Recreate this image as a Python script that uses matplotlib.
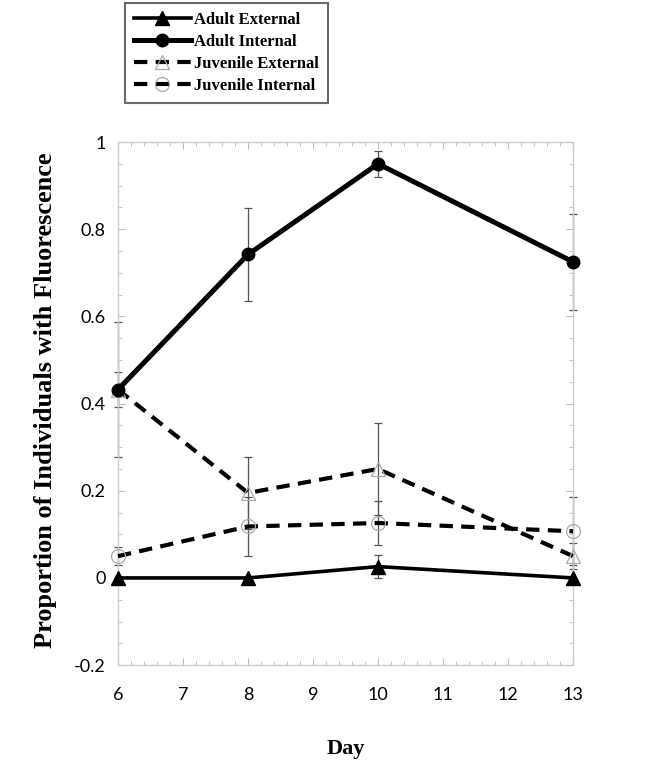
import matplotlib
matplotlib.use("Agg")
import matplotlib.pyplot as plt
from matplotlib.ticker import MultipleLocator

days = [6, 8, 10, 13]
adult_external = [0.0, 0.0, 0.026, 0.0]
adult_external_err = [0.0, 0.0, 0.026, 0.0]
adult_internal = [0.432, 0.742, 0.95, 0.725]
adult_internal_err = [0.155, 0.107, 0.03, 0.11]
juvenile_external = [0.432, 0.195, 0.25, 0.05]
juvenile_external_err = [0.04, 0.083, 0.105, 0.03]
juvenile_internal = [0.05, 0.118, 0.126, 0.107]
juvenile_internal_err = [0.02, 0.068, 0.05, 0.078]

xticks = [6, 7, 8, 9, 10, 11, 12, 13]
yticks = [-0.2, 0, 0.2, 0.4, 0.6, 0.8, 1]
ytick_labels = ["-0.2", "0", "0.2", "0.4", "0.6", "0.8", "1"]

fig = plt.figure(figsize=(6.64, 7.61), dpi=100)
ax = fig.add_axes([0.1777, 0.126, 0.6853, 0.6874])

err_kw = dict(ecolor="#555555", elinewidth=0.9, capsize=3, capthick=0.9)
dash = (3.2, 2.0)

for vals, errs in [(juvenile_internal, juvenile_internal_err),
                   (juvenile_external, juvenile_external_err),
                   (adult_internal, adult_internal_err),
                   (adult_external, adult_external_err)]:
    _, caps, bars = ax.errorbar(days, vals, yerr=errs, fmt="none", zorder=1, **err_kw)
    for c in caps:
        c.set_clip_on(False)
    for b in bars:
        b.set_clip_on(False)

l1, = ax.plot(days, adult_external, color="black", lw=2.6, marker="^", ms=10,
              mfc="black", mec="black", zorder=4, clip_on=False, label="Adult External")
l2, = ax.plot(days, adult_internal, color="black", lw=3.6, marker="o", ms=9,
              mfc="black", mec="black", zorder=4, clip_on=False, label="Adult Internal")
l3, = ax.plot(days, juvenile_external, color="black", lw=3.0, dashes=dash, marker="^", ms=10,
              mfc="none", mec="#aaaaaa", mew=0.9, zorder=3, clip_on=False,
              label="Juvenile External")
l4, = ax.plot(days, juvenile_internal, color="black", lw=3.0, dashes=dash, marker="o", ms=10,
              mfc="none", mec="#aaaaaa", mew=0.9, zorder=3, clip_on=False,
              label="Juvenile Internal")

ax.set_xlim(6, 13)
ax.set_ylim(-0.2, 1.0)
ax.set_xticks(xticks)
ax.set_yticks(yticks)
ax.set_yticklabels(ytick_labels)
ax.xaxis.set_minor_locator(MultipleLocator(0.2))
ax.yaxis.set_minor_locator(MultipleLocator(0.05))
ax.tick_params(which="both", direction="in", top=True, right=True, color="#bbbbbb")
ax.tick_params(which="major", length=5, width=0.8)
ax.tick_params(which="minor", length=3, width=0.6)
ax.tick_params(axis="x", which="major", pad=16, labelsize=13)
ax.tick_params(axis="y", which="major", pad=9, labelsize=13)
for lab in ax.get_xticklabels() + ax.get_yticklabels():
    lab.set_family(["Lato", "DejaVu Sans"])
for s in ax.spines.values():
    s.set_color("#cccccc")
    s.set_linewidth(1.0)

ax.set_xlabel("Day", family="Liberation Serif", fontweight="bold", fontsize=16, labelpad=26)
ax.set_ylabel("Proportion of Individuals with Fluorescence", family="Liberation Serif",
              fontweight="bold", fontsize=19)
ax.yaxis.set_label_coords(-0.135, 0.507)

leg = fig.legend(handles=[l1, l2, l3, l4], loc="upper left",
                 bbox_to_anchor=(0.188, 0.996), frameon=True, fancybox=False,
                 prop={"family": "Liberation Serif", "size": 12, "weight": "bold"},
                 handlelength=3.4, handletextpad=0.2, labelspacing=0.35,
                 borderpad=0.55, borderaxespad=0)
leg.get_frame().set_edgecolor("#444444")
leg.get_frame().set_linewidth(1.5)

fig.savefig("out.png", dpi=100)
